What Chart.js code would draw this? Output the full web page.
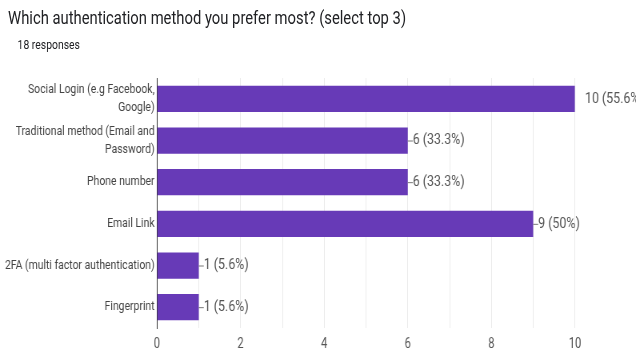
<!DOCTYPE html>
<html>
<head>
<meta charset="utf-8">
<script src="https://cdn.jsdelivr.net/npm/chart.js@4/dist/chart.umd.min.js"></script>
<style>
  html, body { margin: 0; padding: 0; background: #fff; overflow: hidden; }
  #page { position: absolute; left: 0; top: 0; width: 795px; height: 351px; transform: scaleX(0.8); transform-origin: 0 0; }
  #title { position: absolute; left: 10px; top: 7px; font: 18.5px Roboto, sans-serif; color: #202124; white-space: nowrap; }
  #sub { position: absolute; left: 22px; top: 37px; font: 13px Roboto, sans-serif; color: #202124; white-space: nowrap; }
  #wrap { position: absolute; left: 0; top: 0; width: 795px; height: 351px; }
</style>
</head>
<body>
<div id="page">
  <div id="title">Which authentication method you prefer most? (select top 3)</div>
  <div id="sub">18 responses</div>
  <div id="wrap"><canvas id="c"></canvas></div>
</div>
<script>
const S = 0.8;
const totalResponses = 18;
const categories = [
  ["Social Login (e.g Facebook,", "Google)"],
  ["Traditional method (Email and", "Password)"],
  "Phone number",
  "Email Link",
  "2FA (multi factor authentication)",
  "Fingerprint"
];
const counts = [10, 6, 6, 9, 1, 1];
const xTicks = [0, 2, 4, 6, 8, 10];

const valueLabels = {
  id: 'valueLabels',
  afterDatasetsDraw(chart) {
    const ctx = chart.ctx;
    const meta = chart.getDatasetMeta(0);
    const xs = chart.scales.x;
    ctx.save();
    ctx.font = '15.5px Roboto, sans-serif';
    ctx.fillStyle = '#555';
    ctx.strokeStyle = '#777';
    ctx.lineWidth = 1;
    ctx.textBaseline = 'middle';
    ctx.textAlign = 'left';
    meta.data.forEach((bar, i) => {
      const v = counts[i];
      const pct = Math.round(v / totalResponses * 1000) / 10;
      const txt = v + ' (' + pct + '%)';
      const x0 = bar.x;
      const y = bar.y;
      if (v >= xs.max) {
        ctx.fillText(txt, x0 + 10 / S, y);
      } else {
        ctx.beginPath();
        ctx.moveTo(x0, y + 0.5);
        ctx.lineTo(x0 + 5 / S, y + 0.5);
        ctx.stroke();
        ctx.fillText(txt, x0 + 5 / S, y);
      }
    });
    ctx.restore();
  }
};

new Chart(document.getElementById('c'), {
  type: 'bar',
  data: {
    labels: categories,
    datasets: [{
      data: counts,
      backgroundColor: '#673ab7',
      borderWidth: 0,
      categoryPercentage: 0.63,
      barPercentage: 1.0
    }]
  },
  options: {
    indexAxis: 'y',
    responsive: true,
    maintainAspectRatio: false,
    animation: false,
    events: [],
    layout: { padding: { top: 78, right: 61 / S, bottom: 0, left: 0 } },
    plugins: { legend: { display: false }, tooltip: { enabled: false } },
    scales: {
      x: {
        min: 0, max: 10,
        ticks: {
          stepSize: 1,
          autoSkip: false,
          maxRotation: 0,
          padding: 8,
          color: '#555',
          font: { family: 'Roboto, sans-serif', size: 14 },
          callback: (v) => xTicks.includes(v) ? String(v) : ''
        },
        grid: { color: '#ebebeb', drawTicks: false },
        border: { display: false },
        afterFit: (s) => { s.height = 23; }
      },
      y: {
        ticks: {
          color: '#444',
          padding: 3,
          font: { family: 'Roboto, sans-serif', size: 13, lineHeight: 1.35 }
        },
        grid: { display: false, drawTicks: false },
        border: { display: true, color: '#333', width: 1 },
        afterFit: (s) => { s.width = 157 / S; }
      }
    }
  },
  plugins: [valueLabels]
});
</script>
</body>
</html>
